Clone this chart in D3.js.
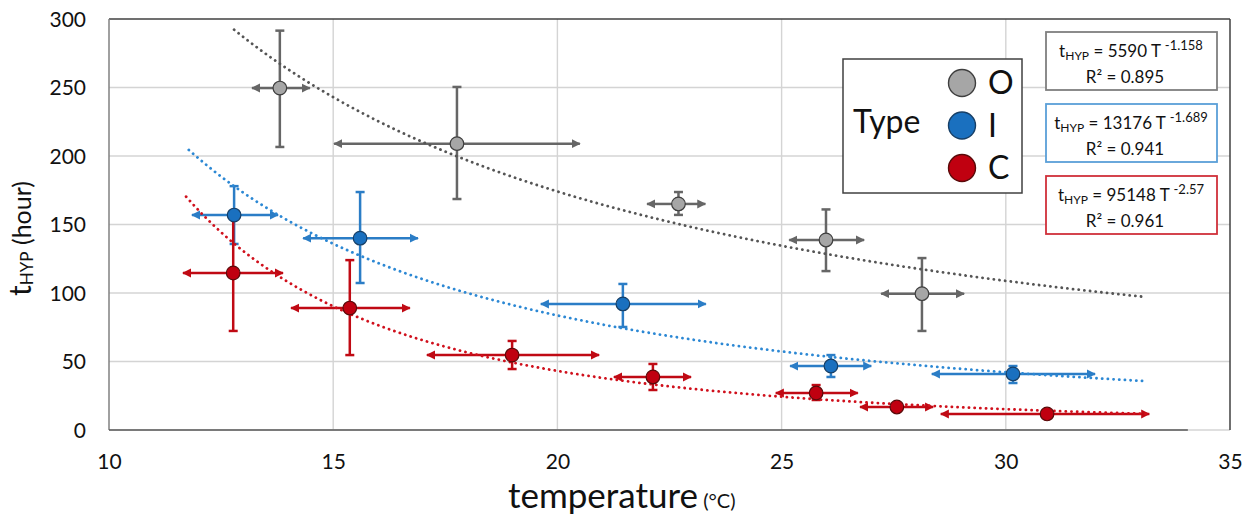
<!DOCTYPE html>
<html>
<head>
<meta charset="utf-8">
<script src="https://cdn.jsdelivr.net/npm/d3@7"></script>
<style>
  html, body { margin: 0; padding: 0; background: #fff; }
  svg { display: block; font-family: Lato, "Open Sans", sans-serif; }
</style>
</head>
<body>
<svg id="chart" width="1249" height="519"></svg>
<script>
// ---------------- DATA ----------------
const types = ["O", "I", "C"];
const xTicks = [10, 15, 20, 25, 30, 35];
const yTicks = [0, 50, 100, 150, 200, 250, 300];

// Type O (gray)
const oTemp = [13.81, 17.76, 22.7, 25.99, 28.13];
const oHours = [249.6, 209, 165, 138.7, 99.5];
const oHoursLow = [206.6, 168.6, 157, 116, 72.3];
const oHoursHigh = [291.5, 250.4, 173.7, 161, 125.5];
const oTempLow = [13.19, 15.02, 22.0, 25.17, 27.22];
const oTempHigh = [14.48, 20.5, 23.3, 26.84, 29.07];

// Type I (blue)
const iTemp = [12.79, 15.6, 21.46, 26.1, 30.16];
const iHours = [156.9, 140, 92, 46.7, 40.9];
const iHoursLow = [135.8, 107.3, 75.2, 38.7, 34.3];
const iHoursHigh = [178, 173.7, 106.6, 54.7, 46.7];
const iTempLow = [11.85, 14.33, 19.63, 25.19, 28.35];
const iTempHigh = [13.77, 16.89, 23.31, 27.0, 31.99];

// Type C (red)
const cTemp = [12.77, 15.37, 18.99, 22.13, 25.77, 27.57, 30.92];
const cHours = [114.6, 89, 54.7, 38.7, 27, 16.8, 11.7];
const cHoursLow = [72.3, 54.7, 44.5, 29.2, 21.9, 15.5, 10.5];
const cHoursHigh = [157, 124, 65, 48.2, 32.8, 18.1, 12.9];
const cTempLow = [11.65, 14.06, 17.09, 21.26, 24.87, 26.75, 28.55];
const cTempHigh = [13.88, 16.71, 20.93, 22.98, 26.7, 28.38, 33.2];

// Power trendlines t = a * T^b
const trendA = [5590, 13176, 95148];
const trendB = [-1.158, -1.689, -2.57];
const trendR2 = ["0.895", "0.941", "0.961"];
const trendFrom = [12.79, 11.78, 11.72];
const trendTo = [33.05, 33.15, 33.15];

// ---------------- STYLE ----------------
const barColor = ["#666666", "#2b7dc6", "#c00a14"];
const markFill = ["#a6a6a6", "#1a70bf", "#c00010"];
const markStroke = ["#3f3f3f", "#173f66", "#5a0a0a"];
const trendColor = ["#555555", "#2c88d4", "#d0101c"];
const boxColor = ["#7f7f7f", "#5a9fd8", "#d0303a"];

const series = [
  {temp: oTemp, hours: oHours, hl: oHoursLow, hh: oHoursHigh, tl: oTempLow, th: oTempHigh},
  {temp: iTemp, hours: iHours, hl: iHoursLow, hh: iHoursHigh, tl: iTempLow, th: iTempHigh},
  {temp: cTemp, hours: cHours, hl: cHoursLow, hh: cHoursHigh, tl: cTempLow, th: cTempHigh}
];

const L = 109, R = 1230, T = 19, B = 430;
const svg = d3.select("#chart");
const x = d3.scaleLinear().domain([10, 35]).range([L, R]);
const y = d3.scaleLinear().domain([0, 300]).range([B, T]);

// gridlines
const grid = svg.append("g");
grid.selectAll("line.h").data(yTicks.filter(v => v < 300)).join("line")
  .attr("x1", L).attr("x2", R).attr("y1", d => y(d)).attr("y2", d => y(d))
  .attr("stroke", "#d4d4d4").attr("stroke-width", 1.4);
grid.selectAll("line.v").data(xTicks.filter(v => v > 10 && v < 35)).join("line")
  .attr("x1", d => x(d)).attr("x2", d => x(d)).attr("y1", T).attr("y2", B)
  .attr("stroke", "#d4d4d4").attr("stroke-width", 1.4);

// frame
svg.append("line").attr("x1", L).attr("x2", R).attr("y1", T).attr("y2", T)
  .attr("stroke", "#404040").attr("stroke-width", 1.5);
svg.append("line").attr("x1", R).attr("x2", R).attr("y1", T).attr("y2", B)
  .attr("stroke", "#404040").attr("stroke-width", 1.5);
svg.append("line").attr("x1", L).attr("x2", L).attr("y1", T).attr("y2", B)
  .attr("stroke", "#808080").attr("stroke-width", 1.5);
svg.append("line").attr("x1", L).attr("x2", x(34.06)).attr("y1", B).attr("y2", B)
  .attr("stroke", "#595959").attr("stroke-width", 1.6);

// axes (labels only)
const yAxis = d3.axisLeft(y).tickValues(yTicks).tickSize(0).tickPadding(0);
const gy = svg.append("g").attr("transform", `translate(${L - 23},0)`).call(yAxis);
gy.select(".domain").remove();
gy.selectAll("text").attr("font-size", 21).attr("fill", "#111")
  .attr("font-family", "Lato, sans-serif").attr("dy", "0.35em");

const xAxis = d3.axisBottom(x).tickValues(xTicks).tickSize(0).tickPadding(0);
const gx = svg.append("g").attr("transform", `translate(0,${B + 32})`).call(xAxis);
gx.select(".domain").remove();
gx.selectAll("text").attr("font-size", 21).attr("fill", "#111")
  .attr("font-family", "Lato, sans-serif").attr("dy", "0.35em");

// axis titles
const xt = svg.append("text").attr("x", 508).attr("y", 508).attr("fill", "#111");
xt.append("tspan").attr("font-size", 35).text("temperature");
xt.append("tspan").attr("font-size", 20).text(" (°C)");

const yt = svg.append("text").attr("transform", "translate(31,296) rotate(-90)")
  .attr("fill", "#111");
yt.append("tspan").attr("font-size", 30).text("t");
yt.append("tspan").attr("font-size", 17).attr("dy", 2).text("HYP");
yt.append("tspan").attr("font-size", 25).attr("dy", -2).text("  (hour)");

// arrowhead markers
const defs = svg.append("defs");
types.forEach((t, i) => {
  defs.append("marker").attr("id", "arr" + i)
    .attr("viewBox", "0 0 10 10").attr("refX", 9).attr("refY", 5)
    .attr("markerWidth", 9).attr("markerHeight", 11).attr("markerUnits", "userSpaceOnUse")
    .attr("orient", "auto")
    .append("path").attr("d", "M0,0 L10,5 L0,10 Z").attr("fill", barColor[i]);
});

// error bars
series.forEach((s, i) => {
  const g = svg.append("g");
  const idx = d3.range(s.temp.length);
  g.selectAll("line.ev").data(idx).join("line")
    .attr("x1", d => x(s.temp[d])).attr("x2", d => x(s.temp[d]))
    .attr("y1", d => y(s.hl[d])).attr("y2", d => y(s.hh[d]))
    .attr("stroke", barColor[i]).attr("stroke-width", 2.5);
  ["hl", "hh"].forEach(k => {
    g.selectAll("line.cap" + k).data(idx).join("line")
      .attr("x1", d => x(s.temp[d]) - 4.5).attr("x2", d => x(s.temp[d]) + 4.5)
      .attr("y1", d => y(s[k][d])).attr("y2", d => y(s[k][d]))
      .attr("stroke", barColor[i]).attr("stroke-width", 2.5);
  });
  ["tl", "th"].forEach(k => {
    g.selectAll("line.eh" + k).data(idx).join("line")
      .attr("x1", d => x(s.temp[d])).attr("x2", d => x(s[k][d]))
      .attr("y1", d => y(s.hours[d])).attr("y2", d => y(s.hours[d]))
      .attr("stroke", barColor[i]).attr("stroke-width", 2.5)
      .attr("marker-end", `url(#arr${i})`);
  });
});

// trendlines
const line = d3.line().x(d => x(d[0])).y(d => y(d[1]));
types.forEach((t, i) => {
  const pts = d3.range(0, 201).map(k => {
    const T0 = trendFrom[i] + (trendTo[i] - trendFrom[i]) * k / 200;
    return [T0, trendA[i] * Math.pow(T0, trendB[i])];
  });
  svg.append("path").datum(pts).attr("d", line).attr("fill", "none")
    .attr("stroke", trendColor[i]).attr("stroke-width", 2.8)
    .attr("stroke-linecap", "round").attr("stroke-dasharray", "0.1 5.6");
});

// markers
series.forEach((s, i) => {
  svg.append("g").selectAll("circle").data(d3.range(s.temp.length)).join("circle")
    .attr("cx", d => x(s.temp[d])).attr("cy", d => y(s.hours[d])).attr("r", 6.8)
    .attr("fill", markFill[i]).attr("stroke", markStroke[i]).attr("stroke-width", 1.2);
});

// legend
const lg = svg.append("g");
lg.append("rect").attr("x", 843).attr("y", 59).attr("width", 179).attr("height", 134)
  .attr("fill", "#fff").attr("stroke", "#404040").attr("stroke-width", 1.5);
lg.append("text").attr("x", 853).attr("y", 133).attr("font-size", 32).attr("fill", "#111").text("Type");
types.forEach((t, i) => {
  const cy = 83 + i * 42.5;
  lg.append("circle").attr("cx", 962).attr("cy", cy).attr("r", 13.5)
    .attr("fill", markFill[i]).attr("stroke", markStroke[i]).attr("stroke-width", 1.4);
  lg.append("text").attr("x", 988).attr("y", cy + 11).attr("font-size", 32).attr("fill", "#111").text(t);
});

// equation boxes
types.forEach((t, i) => {
  const top = 32 + i * 72;
  const g = svg.append("g");
  g.append("rect").attr("x", 1046).attr("y", top).attr("width", 171).attr("height", 58)
    .attr("fill", "#fff").attr("stroke", boxColor[i]).attr("stroke-width", 1.8);
  const t1 = g.append("text").attr("x", 1131).attr("y", top + 25)
    .attr("text-anchor", "middle").attr("font-size", 17).attr("fill", "#111");
  t1.append("tspan").text("t");
  t1.append("tspan").attr("font-size", 12).attr("dy", 3).text("HYP");
  t1.append("tspan").attr("dy", -3).text(` = ${trendA[i]} T `);
  t1.append("tspan").attr("font-size", 13).attr("dy", -7).text(String(trendB[i]));
  g.append("text").attr("x", 1125).attr("y", top + 51)
    .attr("text-anchor", "middle").attr("font-size", 17).attr("fill", "#111")
    .text(`R² = ${trendR2[i]}`);
});
</script>
</body>
</html>
